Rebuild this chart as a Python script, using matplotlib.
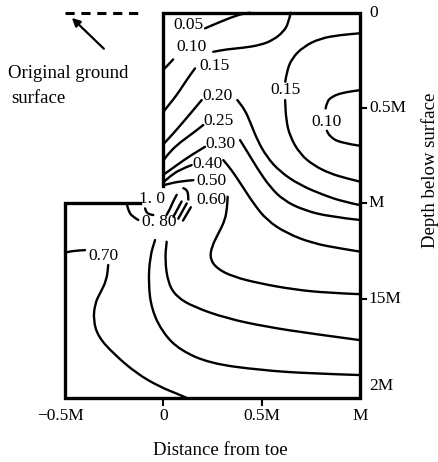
import numpy as np
import matplotlib.pyplot as plt
from matplotlib.path import Path
from matplotlib.patches import PathPatch

plt.rcParams['font.family'] = ['Liberation Serif', 'DejaVu Serif']

# section outline (x: distance from toe in M, d: depth in M)
H = 1.0      # excavation depth
D = 2.02     # bottom of section
outline_x = [0.0, 0.0, 1.0, 1.0, -0.5, -0.5, -0.12]
outline_d = [0.91, 0.0, 0.0, D, D, H, H]

# contour pieces: level -> list of (x, d) polylines
c005 = [[(0.212, 0.082), (0.28, 0.052), (0.347, 0.024), (0.407, 0.004), (0.441, 0.0)]]
c010 = [[(0.0, 0.30), (0.05, 0.245)],
        [(0.254, 0.205), (0.322, 0.192), (0.407, 0.184), (0.492, 0.170), (0.559, 0.143),
         (0.610, 0.100), (0.636, 0.056), (0.647, 0.0)]]
c015 = [[(0.0, 0.52), (0.034, 0.476), (0.068, 0.432), (0.102, 0.379), (0.136, 0.327), (0.161, 0.292)]]
c015_right = [[(1.0, 0.108), (0.898, 0.117), (0.797, 0.135), (0.712, 0.178), (0.653, 0.240),
               (0.627, 0.309), (0.620, 0.362)],
              [(0.619, 0.458), (0.624, 0.563), (0.644, 0.650), (0.695, 0.741), (0.763, 0.800),
               (0.847, 0.843), (0.932, 0.869), (1.0, 0.886)]]
c010_right = [[(1.0, 0.406), (0.907, 0.420), (0.856, 0.441), (0.831, 0.467), (0.825, 0.502)],
              [(0.831, 0.619), (0.847, 0.650), (0.898, 0.682), (1.0, 0.698)]]
c020 = [[(0.0, 0.69), (0.051, 0.633), (0.102, 0.572), (0.153, 0.510), (0.195, 0.458)],
        [(0.376, 0.458), (0.415, 0.510), (0.444, 0.580), (0.478, 0.668), (0.525, 0.755),
         (0.593, 0.834), (0.695, 0.904), (0.814, 0.956), (0.915, 0.991), (1.0, 1.009)]]
c025 = [[(0.0, 0.775), (0.034, 0.729), (0.085, 0.680), (0.153, 0.630), (0.203, 0.589)]]
c030 = [[(0.0, 0.85), (0.068, 0.800), (0.136, 0.750), (0.212, 0.703)],
        [(0.390, 0.668), (0.432, 0.738), (0.483, 0.825), (0.542, 0.913), (0.610, 0.983),
         (0.712, 1.035), (0.847, 1.070), (1.0, 1.087)]]
c040 = [[(0.0, 0.89), (0.034, 0.858), (0.085, 0.822), (0.144, 0.799)],
        [(0.305, 0.773), (0.347, 0.825), (0.398, 0.904), (0.458, 1.0), (0.525, 1.087),
         (0.627, 1.157), (0.763, 1.210), (0.898, 1.236), (1.0, 1.253)]]
c050 = [[(0.0, 0.905), (0.025, 0.898), (0.085, 0.884), (0.153, 0.878)]]
c060 = [[(0.327, 0.965), (0.324, 1.02), (0.314, 1.087), (0.280, 1.157), (0.246, 1.227),
         (0.237, 1.288), (0.271, 1.341), (0.356, 1.385), (0.492, 1.420), (0.661, 1.451),
         (0.831, 1.469), (1.0, 1.476)]]
c080 = [[(0.017, 1.201), (0.008, 1.297), (0.025, 1.420), (0.068, 1.490), (0.153, 1.542),
         (0.322, 1.603), (0.525, 1.647), (0.746, 1.682), (1.0, 1.717)],
        [(-0.042, 1.192), (-0.068, 1.280), (-0.076, 1.420), (-0.059, 1.559), (0.0, 1.682),
         (0.085, 1.769), (0.237, 1.839), (0.492, 1.874), (0.746, 1.892), (1.0, 1.900)]]
c070 = [[(-0.5, 1.259), (-0.458, 1.248), (-0.398, 1.245)],
        [(-0.280, 1.323), (-0.288, 1.402), (-0.322, 1.472), (-0.347, 1.524), (-0.356, 1.612),
         (-0.331, 1.699), (-0.254, 1.787), (-0.136, 1.892), (-0.017, 1.962), (0.068, 1.997),
         (0.119, D)]]
# short arcs crowding round the toe
c_toe = [[(-0.186, 1.0), (-0.175, 1.045), (-0.155, 1.07), (-0.127, 1.087)],
         [(-0.093, 1.026), (-0.085, 1.048), (-0.07, 1.058), (-0.051, 1.061)],
         [(0.068, 0.955), (0.045, 1.0), (0.034, 1.03), (0.017, 1.06)],
         [(0.093, 0.99), (0.051, 1.07)],
         [(0.119, 1.0), (0.076, 1.08)],
         [(0.140, 1.02), (0.100, 1.09)],
         [(0.102, 0.92), (0.12, 0.93), (0.127, 0.955), (0.127, 0.98)]]

contours = [c005, c010, c015, c015_right, c010_right, c020, c025, c030, c040,
            c050, c060, c080, c070, c_toe]

# level labels and where they sit
label_text = ['0.05', '0.10', '0.15', '0.20', '0.25', '0.30', '0.40', '0.50',
              '0.60', '1. 0', '0. 80', '0.70', '0.15', '0.10']
label_x = [0.127, 0.144, 0.258, 0.275, 0.283, 0.292, 0.224, 0.246,
           0.246, -0.06, -0.02, -0.302, 0.622, 0.83]
label_d = [0.065, 0.178, 0.278, 0.435, 0.566, 0.689, 0.794, 0.881,
           0.983, 0.975, 1.10, 1.274, 0.406, 0.575]

x_ticks = [-0.5, 0.0, 0.5, 1.0]
x_tick_labels = ['\u22120.5M', '0', '0.5M', 'M']
d_ticks = [0.0, 0.5, 1.0, 1.5, 2.0]
d_tick_labels = ['0', '0.5M', 'M', '15M', '2M']


def smooth_path(points):
    # quadratic Bezier through the mid-points, traced points act as controls
    pts = np.asarray(points)
    if len(pts) < 3:
        return Path(pts)
    verts = [pts[0], (pts[0] + pts[1]) / 2]
    codes = [Path.MOVETO, Path.LINETO]
    for i in range(1, len(pts) - 1):
        end = pts[i + 1] if i == len(pts) - 2 else (pts[i] + pts[i + 1]) / 2
        verts += [pts[i], end]
        codes += [Path.CURVE3, Path.CURVE3]
    return Path(verts, codes)


fig = plt.figure(figsize=(4.38, 4.62), dpi=100)
ax = fig.add_axes([0, 0, 1, 1])
ax.set_xlim(-0.830, 1.396)
ax.set_ylim(2.356, -0.0666)
ax.axis('off')

ax.plot(outline_x, outline_d, color='black', lw=2.4, solid_joinstyle='miter')

for level in contours:
    for piece in level:
        ax.add_patch(PathPatch(smooth_path(piece), fill=False, edgecolor='black',
                               lw=1.7, capstyle='round'))

for t, x, d in zip(label_text, label_x, label_d):
    ax.text(x, d, t, fontsize=12.5, ha='center', va='center')

# ticks
for x in x_ticks[1:3]:
    ax.plot([x, x], [D, D + 0.035], color='black', lw=1.5)
for x, t in zip(x_ticks, x_tick_labels):
    ax.text(x - (0.02 if x < 0 else 0), 2.115, t, fontsize=12.5, ha='center', va='center')
for d in d_ticks[1:4]:
    ax.plot([1.0, 1.03], [d, d], color='black', lw=1.5)
for d, t in zip(d_ticks, d_tick_labels):
    ax.text(1.045, min(d, 1.96), t, fontsize=12.5, ha='left', va='center')

ax.text(0.288, 2.294, 'Distance from toe', fontsize=13.5, ha='center', va='center')
ax.text(1.356, 0.825, 'Depth below surface', fontsize=13.5, ha='center', va='center',
        rotation=90)

# original ground surface
ax.plot([-0.5, -0.1], [0.0, 0.0], color='black', lw=2.2, linestyle=(0, (3, 2.2)))
ax.annotate('', xy=(-0.475, 0.017), xytext=(-0.292, 0.199),
            arrowprops=dict(arrowstyle='-|>', color='black', lw=1.6, mutation_scale=12))
ax.text(-0.79, 0.318, 'Original ground', fontsize=13.5, ha='left', va='center')
ax.text(-0.775, 0.449, 'surface', fontsize=13.5, ha='left', va='center')

fig.savefig('out.png', dpi=100)
